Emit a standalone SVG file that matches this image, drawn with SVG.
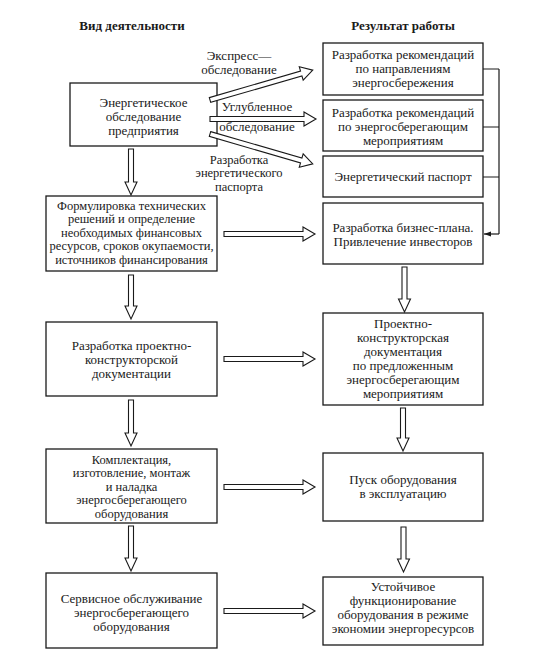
<svg xmlns="http://www.w3.org/2000/svg" width="539" height="659" viewBox="0 0 539 659" font-family="Liberation Serif, Times New Roman, serif">
<defs>
<style>
.box{fill:#fff;stroke:#1a1a1a;stroke-width:1.3}
.t{font-size:13px;fill:#1a1a1a;text-anchor:middle}
.s{font-size:12.5px}
.h{font-size:13px;font-weight:bold;fill:#1a1a1a;text-anchor:middle}
.ar{fill:#fff;stroke:#1a1a1a;stroke-width:1.1;stroke-linejoin:miter}
.ln{fill:none;stroke:#1a1a1a;stroke-width:1.2}
</style>
<marker id="tri" viewBox="0 0 10 10" refX="10" refY="5" markerWidth="7" markerHeight="7" orient="auto" markerUnits="userSpaceOnUse">
<path d="M0,1.5 L10,5 L0,8.5 Z" fill="#1a1a1a"/>
</marker>
</defs>
<rect width="539" height="659" fill="#fff"/>
<text class="h" x="132" y="30">Вид деятельности</text>
<text class="h" x="403" y="30">Результат работы</text>

<g id="l1"><rect class="box" x="70" y="83" width="147" height="63"/>
<text class="t"><tspan x="143.5" y="107">Энергетическое</tspan><tspan x="143.5" y="121">обследование</tspan><tspan x="143.5" y="135">предприятия</tspan></text></g>
<g id="l2"><rect class="box" x="46" y="196" width="171" height="75"/>
<text class="t s"><tspan x="131.5" y="209.5">Формулировка технических</tspan><tspan x="131.5" y="223">решений и определение</tspan><tspan x="131.5" y="236.5">необходимых финансовых</tspan><tspan x="131.5" y="250">ресурсов, сроков окупаемости,</tspan><tspan x="131.5" y="263.5">источников финансирования</tspan></text></g>
<g id="l3"><rect class="box" x="46" y="322" width="171" height="74"/>
<text class="t"><tspan x="131.5" y="350">Разработка проектно-</tspan><tspan x="131.5" y="364">конструкторской</tspan><tspan x="131.5" y="378">документации</tspan></text></g>
<g id="l4"><rect class="box" x="46" y="449" width="171" height="74"/>
<text class="t s"><tspan x="131.5" y="463.5">Комплектация,</tspan><tspan x="131.5" y="477">изготовление, монтаж</tspan><tspan x="131.5" y="490.5">и наладка</tspan><tspan x="131.5" y="504">энергосберегающего</tspan><tspan x="131.5" y="517.5">оборудования</tspan></text></g>
<g id="l5"><rect class="box" x="46" y="573" width="171" height="75"/>
<text class="t"><tspan x="131.5" y="602.5">Сервисное обслуживание</tspan><tspan x="131.5" y="616.5">энергосберегающего</tspan><tspan x="131.5" y="630.5">оборудования</tspan></text></g>

<g id="r1"><rect class="box" x="323" y="43" width="160" height="52"/>
<text class="t"><tspan x="403" y="59">Разработка рекомендаций</tspan><tspan x="403" y="73">по направлениям</tspan><tspan x="403" y="87">энергосбережения</tspan></text></g>
<g id="r2"><rect class="box" x="323" y="100" width="160" height="51"/>
<text class="t"><tspan x="403" y="117">Разработка рекомендаций</tspan><tspan x="403" y="131">по энергосберегающим</tspan><tspan x="403" y="145">мероприятиям</tspan></text></g>
<g id="r3"><rect class="box" x="323" y="156" width="160" height="41"/>
<text class="t" x="403" y="181">Энергетический паспорт</text></g>
<g id="r4"><rect class="box" x="323" y="203" width="160" height="61"/>
<text class="t"><tspan x="403" y="232">Разработка бизнес-плана.</tspan><tspan x="403" y="246">Привлечение инвесторов</tspan></text></g>
<g id="r5"><rect class="box" x="323" y="313" width="160" height="92"/>
<text class="t"><tspan x="403" y="328">Проектно-</tspan><tspan x="403" y="342">конструкторская</tspan><tspan x="403" y="356">документация</tspan><tspan x="403" y="370">по предложенным</tspan><tspan x="403" y="384">энергосберегающим</tspan><tspan x="403" y="398">мероприятиям</tspan></text></g>
<g id="r6"><rect class="box" x="323" y="453" width="160" height="68"/>
<text class="t"><tspan x="403" y="484">Пуск оборудования</tspan><tspan x="403" y="498">в эксплуатацию</tspan></text></g>
<g id="r7"><rect class="box" x="323" y="577" width="160" height="68"/>
<text class="t"><tspan x="403" y="591">Устойчивое</tspan><tspan x="403" y="605">функционирование</tspan><tspan x="403" y="619">оборудования в режиме</tspan><tspan x="403" y="633">экономии энергоресурсов</tspan></text></g>

<g id="labels">
<text class="t"><tspan x="239" y="60">Экспресс—</tspan><tspan x="239" y="74">обследование</tspan></text>
<text class="t" x="257" y="111">Углубленное</text><text class="t" x="257" y="131">обследование</text>
<text class="t s"><tspan x="239" y="163.5">Разработка</tspan><tspan x="239" y="177">энергетического</tspan><tspan x="239" y="190.5">паспорта</tspan></text>
</g>

<g id="connectors">
<polygon class="ar" transform="translate(210,100) rotate(-16.2)" points="0,-2.5 95,-2.5 95,-7 107,0 95,7 95,2.5 0,2.5"/>
<polygon class="ar" points="210,116.5 304,116.5 304,112 316,119 304,126 304,121.5 210,121.5"/>
<polygon class="ar" transform="translate(210,134) rotate(16.2)" points="0,-2.5 95,-2.5 95,-7 107,0 95,7 95,2.5 0,2.5"/>
<polygon class="ar" points="224,231.5 303,231.5 303,227 315,234 303,241 303,236.5 224,236.5"/>
<polygon class="ar" points="224,356.5 303,356.5 303,352 315,359 303,366 303,361.5 224,361.5"/>
<polygon class="ar" points="224,484.5 303,484.5 303,480 315,487 303,494 303,489.5 224,489.5"/>
<polygon class="ar" points="224,608.5 303,608.5 303,604 315,611 303,618 303,613.5 224,613.5"/>
<polygon class="ar" points="128.5,149 128.5,182 125,182 131,195 137,182 133.5,182 133.5,149"/>
<polygon class="ar" points="128.5,275 128.5,306 125,306 131,319 137,306 133.5,306 133.5,275"/>
<polygon class="ar" points="128.5,400 128.5,433 125,433 131,446 137,433 133.5,433 133.5,400"/>
<polygon class="ar" points="128.5,526 128.5,558 125,558 131,571 137,558 133.5,558 133.5,526"/>
<polygon class="ar" points="402,267 402,299 398.5,299 404.5,312 410.5,299 407,299 407,267"/>
<polygon class="ar" points="400.5,408 400.5,438 397,438 403,451 409,438 405.5,438 405.5,408"/>
<polygon class="ar" points="401,527 401,559 397.5,559 403.5,572 409.5,559 406,559 406,527"/>
<path class="ln" d="M483,69 H499 M483,127 H499 M483,177 H499 M499,69 V234"/>
<path class="ln" d="M499,234 H484" marker-end="url(#tri)"/>
</g>
</svg>
